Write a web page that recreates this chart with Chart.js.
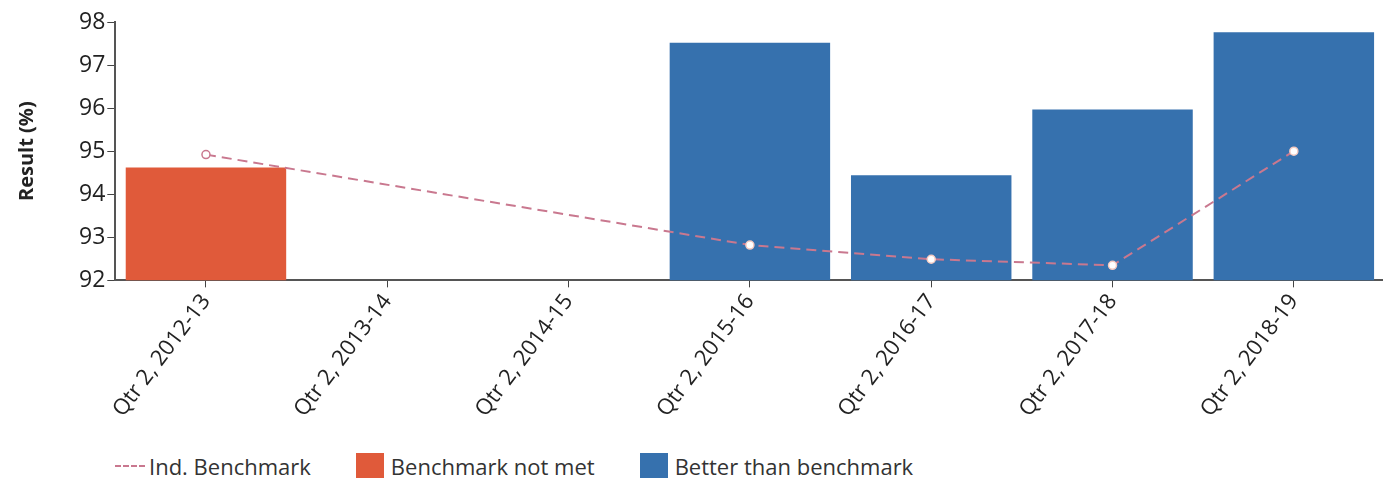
<!DOCTYPE html>
<html>
<head>
<meta charset="utf-8">
<script src="https://cdn.jsdelivr.net/npm/chart.js@4"></script>
<style>
  html, body { margin: 0; padding: 0; background: #fff; overflow: hidden; }
  #wrap { position: relative; width: 1390px; height: 478px; }
  #chartBox { position: absolute; left: 0; top: 0; width: 1390px; height: 448px; }
  #legend { position: absolute; left: 115px; top: 451px; display: flex; gap: 45px;
    font-family: "Open Sans", sans-serif; font-size: 22px; color: #333; }
  #legend .item { display: flex; align-items: center; }
  #legend .box { width: 28px; height: 26px; margin-right: 7px; }
  #legend .line { width: 30px; height: 0; border-top: 2px dashed #c9788f; margin-right: 4px; }
</style>
</head>
<body>
<div id="wrap">
  <div id="chartBox"><canvas id="resultChart"></canvas></div>
  <div id="legend"></div>
</div>
<script>
const categories = ['Qtr 2, 2012-13', 'Qtr 2, 2013-14', 'Qtr 2, 2014-15', 'Qtr 2, 2015-16',
  'Qtr 2, 2016-17', 'Qtr 2, 2017-18', 'Qtr 2, 2018-19'];
const benchmark = [94.92, null, null, 92.82, 92.49, 92.35, 95.0];
const notMet = [94.62, null, null, null, null, null, null];
const better = [null, null, null, 97.52, 94.44, 95.97, 97.76];

const lineColor = '#c9788f';
const redColor = '#e05a3a';
const blueColor = '#3671ae';

// ---------- Legend ----------
const legendItems = [
  { label: 'Ind. Benchmark', type: 'line' },
  { label: 'Benchmark not met', type: 'box', color: redColor },
  { label: 'Better than benchmark', type: 'box', color: blueColor }
];
document.getElementById('legend').innerHTML = legendItems.map(i => `
  <div class="item">
    ${i.type === 'line' ? '<span class="line"></span>' : `<span class="box" style="background:${i.color}"></span>`}
    <span>${i.label}</span>
  </div>`).join('');

// ---------- Chart ----------
const font = '"Open Sans", sans-serif';

new Chart(document.getElementById('resultChart'), {
  type: 'bar',
  data: {
    labels: categories,
    datasets: [
      { type: 'line', label: 'Ind. Benchmark', data: benchmark, order: 0, spanGaps: true,
        borderColor: lineColor, borderWidth: 2, borderDash: [10, 6], tension: 0,
        pointRadius: 4, pointBorderWidth: 1.5,
        pointBackgroundColor: '#fff',
        pointBorderColor: [lineColor, null, null, '#f3c9c0', '#f3c9c0', '#f3c9c0', '#f3c9c0'] },
      { label: 'Benchmark not met', data: notMet, order: 1, grouped: false,
        backgroundColor: redColor, categoryPercentage: 1, barPercentage: 0.885 },
      { label: 'Better than benchmark', data: better, order: 1, grouped: false,
        backgroundColor: blueColor, categoryPercentage: 1, barPercentage: 0.885 }
    ]
  },
  options: {
    responsive: true,
    maintainAspectRatio: false,
    animation: false,
    layout: { padding: { top: 22, right: 4, left: 0, bottom: 24 } },
    plugins: { legend: { display: false }, tooltip: { enabled: false } },
    scales: {
      x: {
        grid: { display: true, offset: false, drawOnChartArea: false, drawTicks: true, tickLength: 7, color: '#444' },
        border: { color: '#555', width: 2 },
        ticks: { font: { family: font, size: 22 }, color: '#222',
          maxRotation: 53, minRotation: 53, padding: 2 }
      },
      y: {
        min: 92, max: 98,
        grid: { display: true, drawOnChartArea: false, drawTicks: true, tickLength: 8, color: '#444' },
        border: { color: '#555', width: 2 },
        ticks: { stepSize: 1, font: { family: font, size: 23 }, color: '#222', padding: 2 },
        title: { display: true, text: 'Result (%)', color: '#222',
          font: { family: font, size: 20, weight: 'bold' },
          padding: { top: 15, bottom: 38 } }
      }
    }
  }
});
</script>
</body>
</html>
